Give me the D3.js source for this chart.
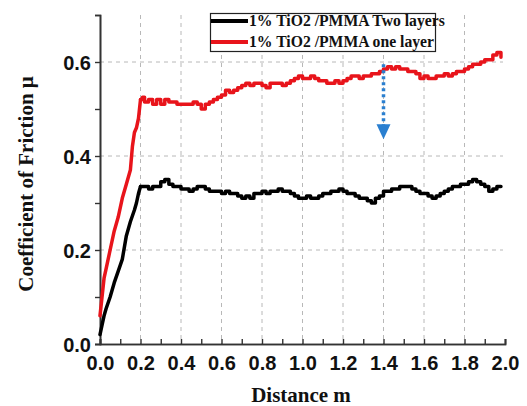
<!DOCTYPE html>
<html><head><meta charset="utf-8">
<script src="https://cdn.jsdelivr.net/npm/d3@7"></script>
<style>body{margin:0;background:#fff}svg{display:block}</style>
</head><body>
<script>
// ---- data ----
const redX = [0,0.01,0.02,0.03,0.05,0.07,0.09,0.11,0.13,0.15,0.16,0.17,0.18,0.19,0.20,0.21,
0.22,0.24,0.26,0.28,0.30,0.32,0.34,0.36,0.38,0.40,0.42,0.44,0.46,0.48,0.50,0.52,0.54,0.56,0.58,0.60,
0.62,0.64,0.66,0.68,0.70,0.72,0.74,0.76,0.78,0.80,0.82,0.84,0.86,0.88,0.90,0.92,0.94,0.96,0.98,1.00,
1.02,1.04,1.06,1.08,1.10,1.12,1.14,1.16,1.18,1.20,1.22,1.24,1.26,1.28,1.30,1.32,1.34,1.36,1.38,1.40,
1.42,1.44,1.46,1.48,1.50,1.52,1.54,1.56,1.58,1.60,1.62,1.64,1.66,1.68,1.70,1.72,1.74,1.76,1.78,1.80,
1.82,1.84,1.86,1.88,1.90,1.92,1.94,1.96,1.98];
const redY = [0.06,0.10,0.14,0.16,0.20,0.24,0.27,0.31,0.34,0.37,0.42,0.45,0.46,0.48,0.52,0.525,
0.515,0.52,0.51,0.52,0.51,0.52,0.515,0.515,0.51,0.51,0.51,0.51,0.515,0.51,0.50,0.51,0.515,0.52,0.525,0.53,
0.54,0.535,0.54,0.545,0.55,0.555,0.55,0.555,0.555,0.55,0.545,0.555,0.555,0.555,0.55,0.555,0.56,0.565,0.57,0.565,
0.565,0.57,0.565,0.56,0.56,0.555,0.555,0.56,0.555,0.56,0.565,0.57,0.57,0.565,0.57,0.57,0.575,0.575,0.58,0.585,
0.59,0.585,0.59,0.585,0.585,0.58,0.58,0.575,0.565,0.57,0.565,0.565,0.57,0.57,0.575,0.57,0.575,0.58,0.58,0.585,
0.59,0.595,0.595,0.60,0.605,0.605,0.615,0.62,0.61];
const blackX = [0,0.01,0.02,0.03,0.05,0.07,0.09,0.11,0.13,0.15,0.17,0.18,0.19,0.20,
0.22,0.24,0.26,0.28,0.30,0.32,0.34,0.36,0.38,0.40,0.42,0.44,0.46,0.48,0.50,0.52,0.54,0.56,0.58,0.60,
0.62,0.64,0.66,0.68,0.70,0.72,0.74,0.76,0.78,0.80,0.82,0.84,0.86,0.88,0.90,0.92,0.94,0.96,0.98,1.00,
1.02,1.04,1.06,1.08,1.10,1.12,1.14,1.16,1.18,1.20,1.22,1.24,1.26,1.28,1.30,1.32,1.34,1.36,1.38,1.40,
1.42,1.44,1.46,1.48,1.50,1.52,1.54,1.56,1.58,1.60,1.62,1.64,1.66,1.68,1.70,1.72,1.74,1.76,1.78,1.80,
1.82,1.84,1.86,1.88,1.90,1.92,1.94,1.96,1.98];
const blackY = [0.02,0.04,0.06,0.075,0.10,0.13,0.155,0.18,0.23,0.26,0.285,0.30,0.32,0.335,
0.335,0.33,0.335,0.335,0.345,0.35,0.34,0.335,0.335,0.33,0.33,0.325,0.33,0.335,0.335,0.33,0.325,0.325,0.325,0.32,
0.325,0.32,0.32,0.315,0.31,0.315,0.31,0.32,0.32,0.325,0.32,0.325,0.325,0.33,0.325,0.325,0.32,0.315,0.31,0.31,
0.315,0.31,0.31,0.315,0.32,0.32,0.325,0.325,0.33,0.325,0.32,0.32,0.315,0.31,0.31,0.305,0.30,0.31,0.315,0.325,
0.325,0.33,0.33,0.335,0.335,0.335,0.33,0.325,0.32,0.32,0.315,0.31,0.315,0.32,0.325,0.33,0.335,0.335,0.34,0.34,
0.345,0.35,0.345,0.34,0.335,0.325,0.33,0.335,0.335];
const xTicks = [0,0.2,0.4,0.6,0.8,1.0,1.2,1.4,1.6,1.8,2.0];
const yTicks = [0,0.2,0.4,0.6];
const seriesNames = ["1% TiO2 /PMMA Two layers","1% TiO2 /PMMA one layer"];
const seriesColors = ["#000000","#e8141b"];
const rampEnd = 0.2;
const arrowX = 1.4, arrowFrom = 0.595, arrowTo = 0.44;

// ---- chart ----
const W = 527, H = 406;
const svg = d3.select("body").append("svg").attr("width", W).attr("height", H);
const x = d3.scaleLinear().domain([0, 2.0]).range([100, 505]);
const y = d3.scaleLinear().domain([0, 0.7]).range([344, 15]);

// grid
const grid = svg.append("g").attr("stroke", "#b8b8b8").attr("stroke-width", 1).attr("stroke-dasharray", "4,4");
xTicks.filter(d => d > 0 && d < 2).forEach(d => {
  grid.append("line").attr("x1", x(d)).attr("x2", x(d)).attr("y1", y(0.7)).attr("y2", y(0));
});
yTicks.filter(d => d > 0).forEach(d => {
  grid.append("line").attr("x1", x(0)).attr("x2", x(2.0) - 2).attr("y1", y(d)).attr("y2", y(d));
});

// axes
const font = "'Liberation Sans', Arial, sans-serif";
const xAxis = svg.append("g").attr("transform", `translate(0,${y(0)})`)
  .call(d3.axisBottom(x).tickValues(xTicks).tickFormat(d3.format(".1f")).tickSize(-5).tickPadding(12));
const xMinor = svg.append("g").attr("transform", `translate(0,${y(0)})`)
  .call(d3.axisBottom(x).tickValues(d3.range(0.1, 2.0, 0.2)).tickFormat("").tickSize(-5));
const yAxis = svg.append("g").attr("transform", `translate(${x(0)},0)`)
  .call(d3.axisLeft(y).tickValues(yTicks).tickFormat(d3.format(".1f")).tickSize(5).tickPadding(4));
const yMinor = svg.append("g").attr("transform", `translate(${x(0)},0)`)
  .call(d3.axisLeft(y).tickValues([0.1,0.3,0.5]).tickFormat("").tickSize(5));
[xAxis, xMinor, yAxis, yMinor].forEach(g => {
  g.select(".domain").attr("stroke", "#333").attr("stroke-width", 1.6);
  g.selectAll(".tick line").attr("stroke", "#333").attr("stroke-width", 1.4);
  g.selectAll("text").attr("font-family", font).attr("font-weight", "bold")
    .attr("font-size", 20).attr("fill", "#111");
});
xAxis.selectAll("text").attr("dy", "0.71em");
yAxis.selectAll("text").attr("dy", "0.36em");

// lines: linear ramp at start, stepped plateau afterwards
const lineLin = d3.line().x(d => x(d[0])).y(d => y(d[1]));
const lineStep = d3.line().x(d => x(d[0])).y(d => y(d[1])).curve(d3.curveStepAfter);
function drawSeries(xs, ys, color) {
  const data = xs.map((v, i) => [v, ys[i]]);
  const ramp = data.filter(d => d[0] <= rampEnd);
  const rest = data.filter(d => d[0] >= rampEnd);
  [[ramp, lineLin], [rest, lineStep]].forEach(([dd, gen]) => {
    svg.append("path").datum(dd).attr("d", gen).attr("fill", "none")
      .attr("stroke", color).attr("stroke-width", 3.5)
      .attr("stroke-linejoin", "round").attr("stroke-linecap", "round");
  });
}
drawSeries(blackX, blackY, seriesColors[0]);
drawSeries(redX, redY, seriesColors[1]);

// arrow
const arrowColor = "#2a7fd0";
svg.append("line").attr("x1", x(arrowX)).attr("x2", x(arrowX))
  .attr("y1", y(arrowFrom)).attr("y2", y(arrowTo) - 10)
  .attr("stroke", arrowColor).attr("stroke-width", 3.5).attr("stroke-dasharray", "3,3");
const ax = x(arrowX), ay = y(arrowTo);
svg.append("path").attr("d", `M${ax - 7},${ay - 13}L${ax + 7},${ay - 13}L${ax},${ay + 2}Z`)
  .attr("fill", arrowColor);

// legend
const serif = "'Liberation Serif', 'Times New Roman', serif";
const leg = svg.append("g");
leg.append("rect").attr("x", 210.5).attr("y", 13.5).attr("width", 225).attr("height", 38)
  .attr("fill", "#fff").attr("stroke", "#222").attr("stroke-width", 1.2);
seriesNames.forEach((n, i) => {
  const ly = 21 + i * 21;
  leg.append("line").attr("x1", 211).attr("x2", 248).attr("y1", ly).attr("y2", ly)
    .attr("stroke", seriesColors[i]).attr("stroke-width", 4);
  leg.append("text").attr("x", 249).attr("y", ly).attr("dy", "0.35em")
    .attr("font-family", serif).attr("font-weight", "bold").attr("font-size", 15.7)
    .attr("fill", "#111").text(n);
});

// axis titles
svg.append("text").attr("x", 301).attr("y", 402).attr("text-anchor", "middle")
  .attr("font-family", serif).attr("font-weight", "bold").attr("font-size", 21)
  .attr("fill", "#111").text("Distance m");
svg.append("text").attr("transform", "translate(33,184) rotate(-90)").attr("text-anchor", "middle")
  .attr("font-family", serif).attr("font-weight", "bold").attr("font-size", 21)
  .attr("fill", "#111").text("Coefficient of Friction μ");
</script>
</body></html>
